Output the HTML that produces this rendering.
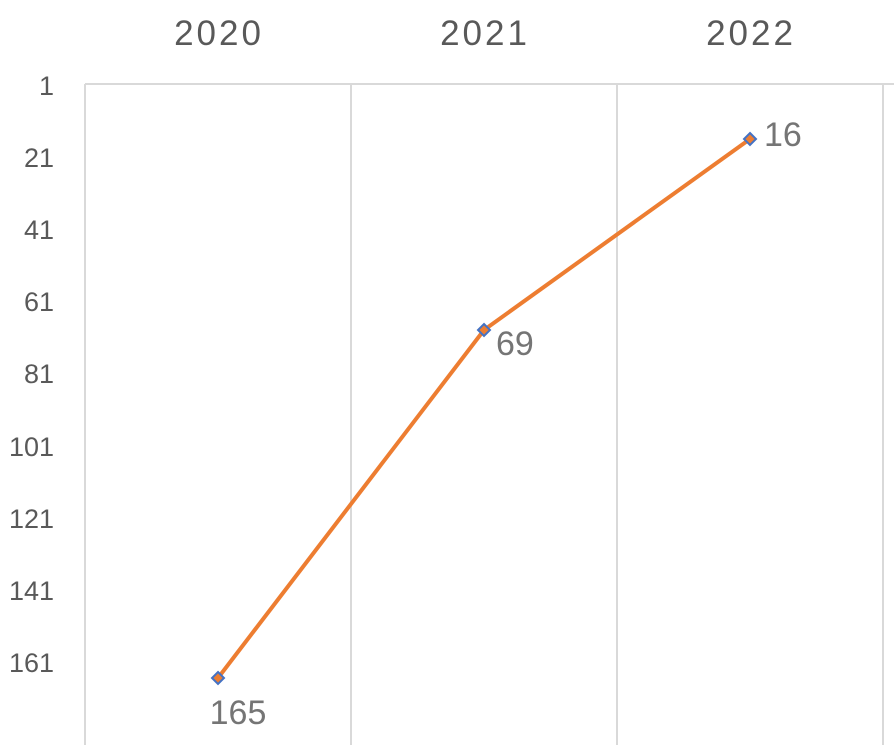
<!DOCTYPE html>
<html><head><style>body{margin:0;background:#fff}</style></head><body>
<svg width="894" height="745" xmlns="http://www.w3.org/2000/svg" font-family="Liberation Sans, sans-serif">
<g stroke="#d9d9d9" stroke-width="2" fill="none">
<line x1="85" y1="84" x2="894" y2="84"/>
<line x1="85" y1="84" x2="85" y2="745"/>
<line x1="351" y1="84" x2="351" y2="745"/>
<line x1="617" y1="84" x2="617" y2="745"/>
<line x1="883" y1="84" x2="883" y2="745"/>
</g>
<g fill="#595959" font-size="35" text-anchor="middle" letter-spacing="3">
<text x="219" y="45">2020</text><text x="485" y="45">2021</text><text x="751" y="45">2022</text>
</g>
<g fill="#595959" font-size="27" text-anchor="end">
<text x="54" y="95">1</text><text x="54" y="167">21</text><text x="54" y="239">41</text><text x="54" y="311">61</text><text x="54" y="383">81</text><text x="54" y="456">101</text><text x="54" y="528">121</text><text x="54" y="600">141</text><text x="54" y="672">161</text>
</g>
<polyline points="218,678 484,330 750,139" fill="none" stroke="#ed7d31" stroke-width="4" stroke-linejoin="round"/>
<g fill="#ed7d31" stroke="#4472c4" stroke-width="2">
<polygon points="218,672 224,678 218,684 212,678"/>
<polygon points="484,324 490,330 484,336 478,330"/>
<polygon points="750,133 756,139 750,145 744,139"/>
</g>
<g fill="#757575" font-size="34">
<text x="238" y="724" text-anchor="middle">165</text>
<text x="496" y="355">69</text>
<text x="764" y="146">16</text>
</g>
</svg>
</body></html>
